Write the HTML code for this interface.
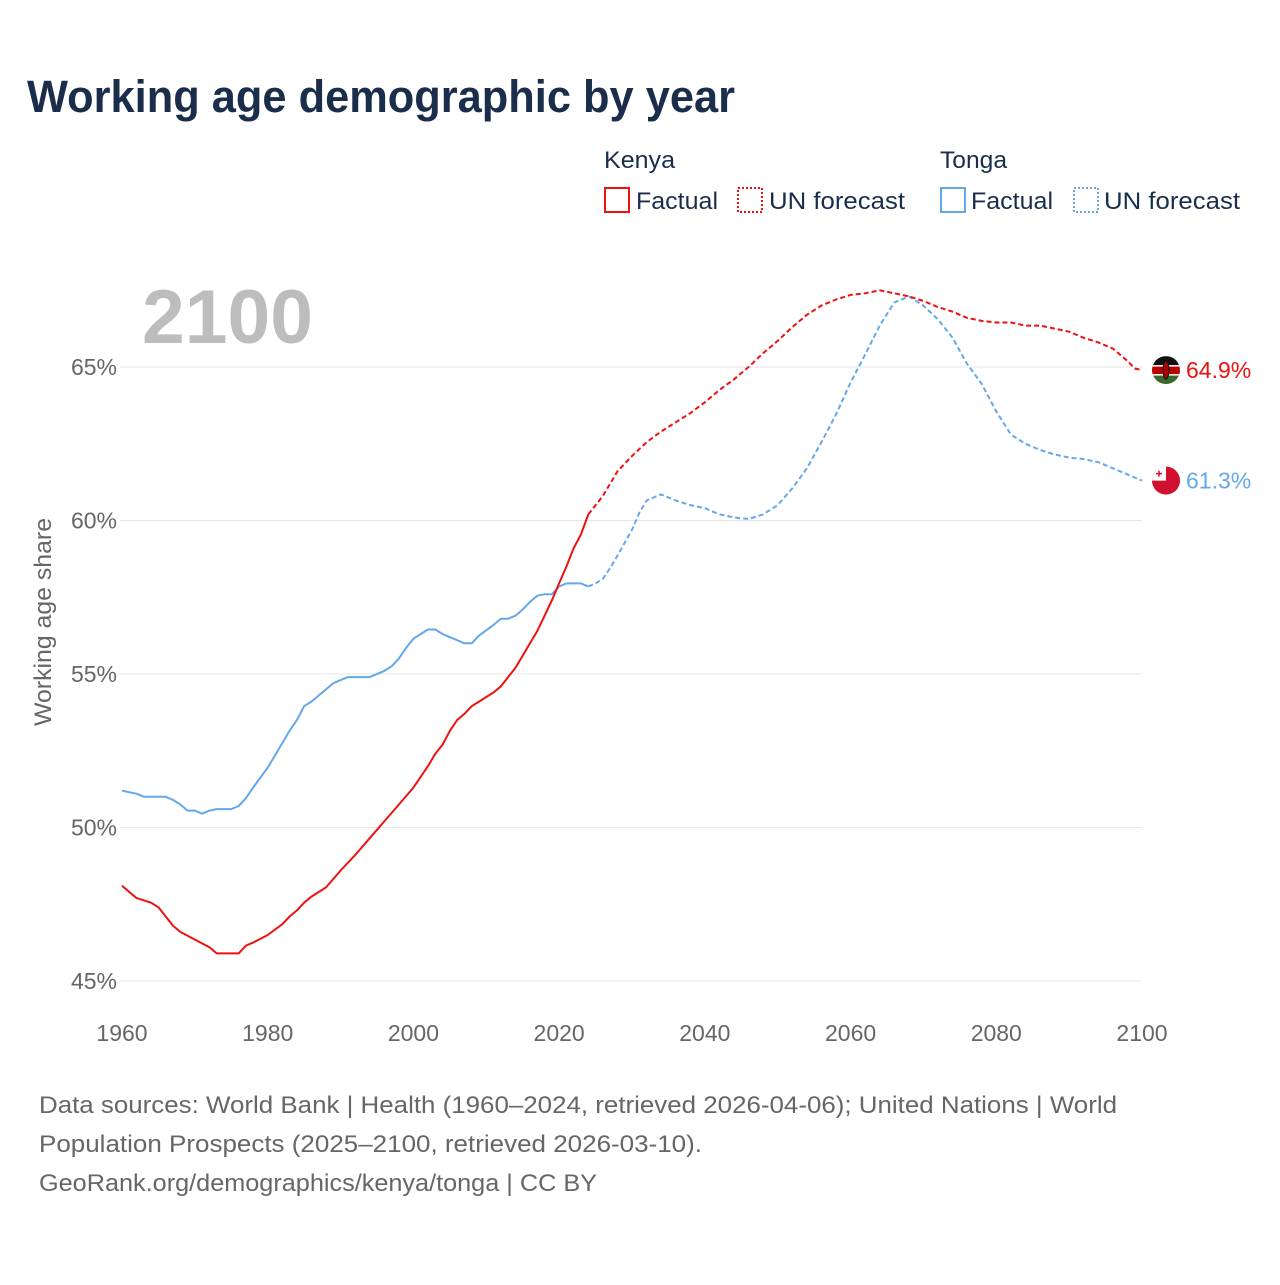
<!DOCTYPE html>
<html><head><meta charset="utf-8"><style>
body{margin:0;background:#fff;font-family:"Liberation Sans",sans-serif;}
svg text{font-family:"Liberation Sans",sans-serif;}
</style></head><body>
<svg width="1280" height="1280" viewBox="0 0 1280 1280">
<text x="27" y="112" font-size="45" font-weight="bold" fill="#1a2e4c" textLength="708" lengthAdjust="spacingAndGlyphs">Working age demographic by year</text>
<g font-size="24" fill="#1a2e4c">
<text x="604" y="168" textLength="71" lengthAdjust="spacingAndGlyphs">Kenya</text>
<text x="940" y="168" textLength="67" lengthAdjust="spacingAndGlyphs">Tonga</text>
<g><rect x="605" y="188" width="24" height="24" fill="none" stroke="#ee1111" stroke-width="2"/><text x="636" y="209" textLength="82" lengthAdjust="spacingAndGlyphs">Factual</text></g>
<g><rect x="738" y="188" width="24" height="24" fill="none" stroke="#ee1111" stroke-width="2" stroke-dasharray="2,2"/><text x="769" y="209" textLength="136" lengthAdjust="spacingAndGlyphs">UN forecast</text></g>
<g><rect x="941" y="188" width="24" height="24" fill="none" stroke="#64a8ea" stroke-width="2"/><text x="971" y="209" textLength="82" lengthAdjust="spacingAndGlyphs">Factual</text></g>
<g><rect x="1074" y="188" width="24" height="24" fill="none" stroke="#64a8ea" stroke-width="2" stroke-dasharray="2,2"/><text x="1104" y="209" textLength="136" lengthAdjust="spacingAndGlyphs">UN forecast</text></g>
</g>
<text x="142" y="343" font-size="76" font-weight="bold" fill="#bdbdbd" textLength="171" lengthAdjust="spacingAndGlyphs">2100</text>
<text transform="translate(51,622) rotate(-90)" text-anchor="middle" font-size="24" fill="#666" textLength="208" lengthAdjust="spacingAndGlyphs">Working age share</text>
<g id="grid"></g><g id="xt"></g><g id="lines"></g><g id="ends"></g>
<g font-size="24" fill="#666">
<text x="39" y="1113" textLength="1078" lengthAdjust="spacingAndGlyphs">Data sources: World Bank | Health (1960–2024, retrieved 2026-04-06); United Nations | World</text>
<text x="39" y="1152" textLength="663" lengthAdjust="spacingAndGlyphs">Population Prospects (2025–2100, retrieved 2026-03-10).</text>
<text x="39" y="1191" textLength="558" lengthAdjust="spacingAndGlyphs">GeoRank.org/demographics/kenya/tonga | CC BY</text>
</g>
</svg>
<script>
const yTicks=[45,50,55,60,65];
const xTicks=[1960,1980,2000,2020,2040,2060,2080,2100];
const kenyaFactYears=[1960,1962,1964,1965,1966,1967,1968,1970,1972,1973,1974,1976,1977,1978,1980,1982,1983,1984,1985,1986,1988,1990,1992,1994,1996,1998,2000,2002,2003,2004,2005,2006,2007,2008,2009,2010,2011,2012,2013,2014,2015,2016,2017,2018,2019,2020,2021,2022,2023,2024];
const kenyaFactVals=[48.1,47.7,47.55,47.4,47.1,46.8,46.6,46.35,46.1,45.9,45.9,45.9,46.15,46.25,46.5,46.85,47.1,47.3,47.55,47.75,48.05,48.6,49.1,49.65,50.2,50.75,51.3,52.0,52.4,52.7,53.15,53.5,53.7,53.95,54.1,54.25,54.4,54.6,54.9,55.2,55.6,56.0,56.4,56.9,57.4,57.95,58.5,59.1,59.55,60.2];
const kenyaFcYears=[2024,2025,2026,2028,2030,2032,2034,2036,2038,2040,2042,2044,2046,2048,2050,2052,2054,2056,2058,2060,2062,2064,2066,2068,2070,2072,2074,2076,2078,2080,2082,2084,2086,2088,2090,2092,2094,2096,2098,2099,2100];
const kenyaFcVals=[60.2,60.5,60.8,61.6,62.1,62.55,62.9,63.2,63.5,63.85,64.25,64.6,65.0,65.45,65.85,66.3,66.7,67.0,67.2,67.35,67.4,67.5,67.4,67.3,67.15,66.95,66.8,66.6,66.5,66.45,66.45,66.35,66.35,66.25,66.15,65.95,65.8,65.6,65.2,64.95,64.9];
const tongaFactYears=[1960,1962,1963,1966,1967,1968,1969,1970,1971,1972,1973,1975,1976,1977,1978,1980,1982,1983,1984,1985,1986,1988,1989,1991,1994,1996,1997,1998,1999,2000,2001,2002,2003,2004,2006,2007,2008,2009,2011,2012,2013,2014,2015,2016,2017,2018,2019,2020,2021,2023,2024];
const tongaFactVals=[51.2,51.1,51.0,51.0,50.9,50.75,50.55,50.55,50.45,50.55,50.6,50.6,50.7,50.95,51.3,51.95,52.75,53.15,53.5,53.95,54.1,54.5,54.7,54.9,54.9,55.1,55.25,55.5,55.85,56.15,56.3,56.45,56.45,56.3,56.1,56.0,56.0,56.25,56.6,56.8,56.8,56.9,57.1,57.35,57.55,57.6,57.6,57.85,57.95,57.95,57.85];
const tongaFcYears=[2024,2025,2026,2027,2028,2030,2031,2032,2034,2036,2038,2040,2042,2044,2046,2048,2050,2052,2054,2056,2058,2060,2062,2064,2066,2068,2070,2072,2074,2076,2078,2080,2082,2084,2086,2088,2090,2092,2094,2096,2098,2100];
const tongaFcVals=[57.85,57.95,58.1,58.45,58.85,59.7,60.25,60.65,60.85,60.65,60.5,60.4,60.2,60.1,60.05,60.2,60.5,61.05,61.7,62.55,63.45,64.5,65.4,66.35,67.1,67.3,67.0,66.55,65.95,65.1,64.45,63.55,62.8,62.5,62.3,62.15,62.05,62.0,61.9,61.7,61.5,61.3];
const NS="http://www.w3.org/2000/svg";
const X=y=>122+(y-1960)*1020/140;
const Y=v=>367+(65-v)*614/20;
function mk(t,a,p){const e=document.createElementNS(NS,t);for(const k in a)e.setAttribute(k,a[k]);p.appendChild(e);return e;}
const grid=document.getElementById('grid');
yTicks.forEach(v=>{
 const l=mk('line',{x1:120,x2:1142,y1:Y(v),y2:Y(v),stroke:'#e6e6e6','stroke-width':1},grid);
 
 
 const t=mk('text',{x:117,y:Y(v)+8,'text-anchor':'end','font-size':23,fill:'#666'},grid);
 t.textContent=v+'%';
 
 
});
const xt=document.getElementById('xt');
xTicks.forEach(v=>{
 const t=mk('text',{x:X(v),y:1041,'text-anchor':'middle','font-size':23,fill:'#666'},xt);
 t.textContent=v;
 
 
});
const lines=document.getElementById('lines');
function line(ys,vs,col,dash,name){
 const d=ys.map((y,i)=>(i?'L':'M')+X(y).toFixed(1)+','+Y(vs[i]).toFixed(1)).join('');
 const p=mk('path',{d:d,fill:'none',stroke:col,'stroke-width':2,'stroke-linejoin':'round'},lines);
 if(dash)p.setAttribute('stroke-dasharray','5,3');
 
 
}
line(tongaFactYears,tongaFactVals,'#64a8ea',false,'tonga-factual-line');
line(tongaFcYears,tongaFcVals,'#64a8ea',true,'tonga-forecast-line');
line(kenyaFactYears,kenyaFactVals,'#ee1111',false,'kenya-factual-line');
line(kenyaFcYears,kenyaFcVals,'#ee1111',true,'kenya-forecast-line');
const ends=document.getElementById('ends');
const kv=kenyaFcVals[kenyaFcVals.length-1], tv=tongaFcVals[tongaFcVals.length-1];
const kg=mk('g',{},ends);


const ky=Y(kv);
mk('clipPath',{id:'kc'},kg).appendChild(document.createElementNS(NS,'circle')).setAttribute('r',14);
const kc=document.querySelector('#kc circle');kc.setAttribute('cx',1166);kc.setAttribute('cy',ky);
const kgg=mk('g',{'clip-path':'url(#kc)'},kg);
mk('rect',{x:1150,y:ky-14,width:32,height:10,fill:'#111'},kgg);
mk('rect',{x:1150,y:ky-4,width:32,height:9,fill:'#b00'},kgg);
mk('rect',{x:1150,y:ky+5,width:32,height:10,fill:'#3a6a2a'},kgg);
mk('rect',{x:1150,y:ky-5,width:32,height:1.5,fill:'#fff'},kgg);
mk('rect',{x:1150,y:ky+4,width:32,height:1.5,fill:'#fff'},kgg);
mk('ellipse',{cx:1166,cy:ky,rx:3,ry:9,fill:'#a00',stroke:'#111'},kgg);
const kt=mk('text',{x:1186,y:ky+8,'font-size':23,fill:'#ee1111'},ends);
kt.textContent=kv.toFixed(1)+'%';


const ty=Y(tv);
const tg=mk('g',{},ends);


mk('circle',{cx:1166,cy:ty,r:14,fill:'#d0102e'},tg);
mk('path',{d:`M1152,${ty} A14,14 0 0 1 1166,${ty-14} L1166,${ty} Z`,fill:'#fff'},tg);
mk('path',{d:`M1159,${ty-10}v6M1156,${ty-7}h6`,stroke:'#d0102e','stroke-width':1.5},tg);
const tt=mk('text',{x:1186,y:ty+8,'font-size':23,fill:'#64a8ea'},ends);
tt.textContent=tv.toFixed(1)+'%';


</script>
</body></html>
